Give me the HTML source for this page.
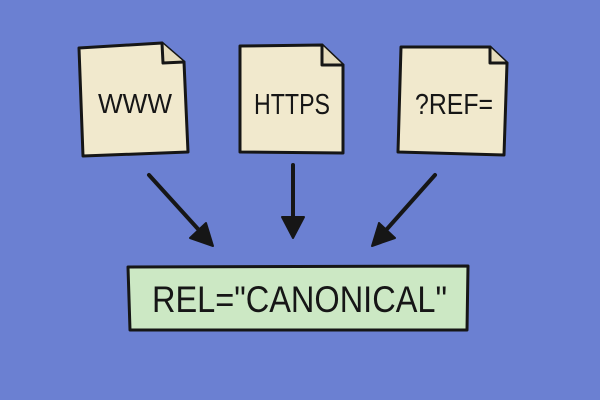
<!DOCTYPE html>
<html><head><meta charset="utf-8"><style>
html,body{margin:0;padding:0;background:#6b80d2;}
svg{display:block;}
text{font-family:"Liberation Sans",sans-serif;fill:#161616;}
</style></head><body>
<svg width="600" height="400" viewBox="0 0 600 400" xmlns="http://www.w3.org/2000/svg">
<rect width="600" height="400" fill="#6b80d2"/>
<g stroke="#161616" stroke-width="3" stroke-linejoin="round" stroke-linecap="round">
  <!-- doc 1 -->
  <path d="M79 48 L162 43 L184 62 L188 152 L83 156 Z" fill="#f1e9cd"/>
  <path d="M162 43 L163 63 L184 62" fill="#e6dcbc"/>
  <!-- doc 2 -->
  <path d="M240 46 L322 45 L343 65 L343 153 L240 152 Z" fill="#f1e9cd"/>
  <path d="M322 45 L322 65 L343 65" fill="#e6dcbc"/>
  <!-- doc 3 -->
  <path d="M401 47 L490 47 L507 63 L504 155 L398 152 Z" fill="#f1e9cd"/>
  <path d="M490 47 L490 63 L507 63" fill="#e6dcbc"/>
  <!-- box -->
  <path d="M128 267 L468 266 L467 330 L130 330 Z" fill="#cce8c4"/>
</g>
<g stroke="#161616" stroke-width="4" stroke-linecap="round" fill="none">
  <line x1="149" y1="175" x2="198" y2="229"/>
  <line x1="293" y1="165" x2="293" y2="220"/>
  <line x1="435" y1="175" x2="387" y2="229"/>
</g>
<g fill="#161616" stroke="#161616" stroke-width="2" stroke-linejoin="round">
  <path d="M213 246 L190 238 L206 223 Z"/>
  <path d="M293 238 L282 217 L304 217 Z"/>
  <path d="M372 246 L379 223 L395 238 Z"/>
</g>
<text x="98" y="113" font-size="28" textLength="74" lengthAdjust="spacingAndGlyphs">WWW</text>
<text x="254" y="114" font-size="29" textLength="76" lengthAdjust="spacingAndGlyphs">HTTPS</text>
<text x="415" y="114" font-size="29" textLength="78" lengthAdjust="spacingAndGlyphs">?REF=</text>
<text x="152" y="312" font-size="37" textLength="295" lengthAdjust="spacingAndGlyphs">REL="CANONICAL"</text>
</svg>
</body></html>
